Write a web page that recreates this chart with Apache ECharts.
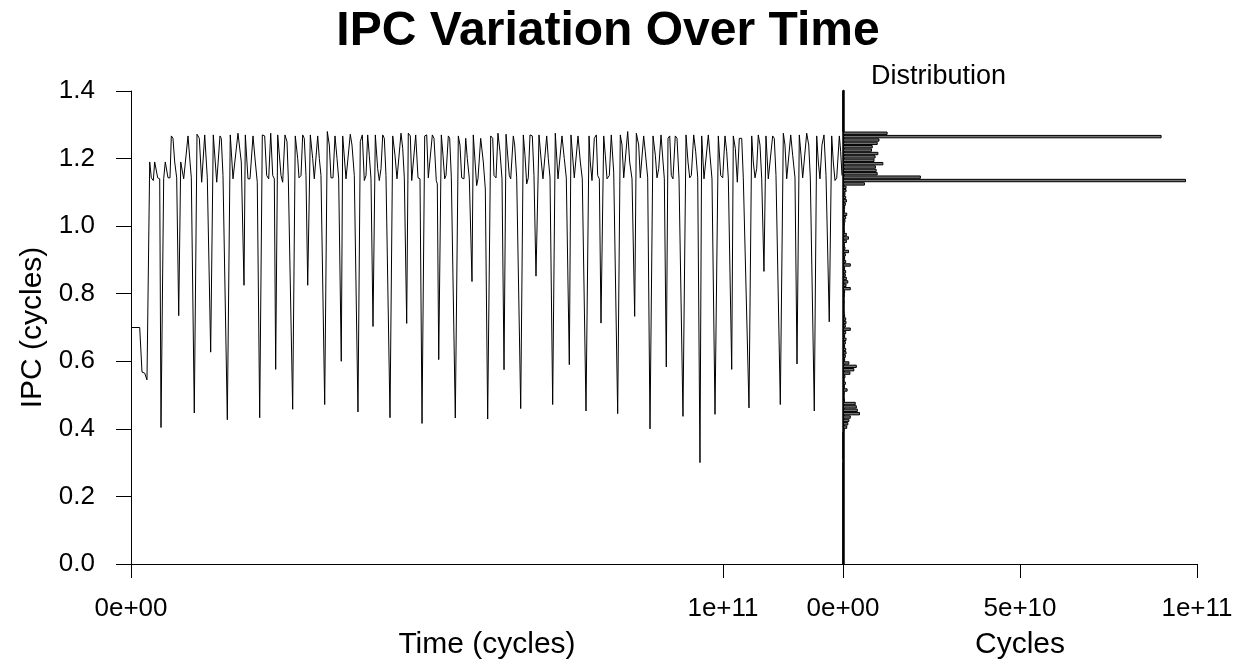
<!DOCTYPE html>
<html>
<head>
<meta charset="utf-8">
<title>IPC Variation Over Time</title>
<script src="https://cdn.jsdelivr.net/npm/echarts@6/dist/echarts.min.js"></script>
<style>
html,body{margin:0;padding:0;background:#fff;}
#chart{width:1236px;height:665px;}
</style>
</head>
<body>
<div id="chart"></div>
<script>
// Time of each sample, in units of 1e9 cycles
const timeGcycles = [
0.17,1.47,1.86,2.31,2.70,3.16,3.43,3.77,4.00,4.27,4.51,4.85,5.07,5.52,5.79,6.25,6.59,6.81,7.09,7.38,7.72,8.06,
8.40,8.67,8.90,9.17,9.63,9.97,10.19,10.47,10.69,11.15,11.54,11.94,12.45,12.89,13.18,13.46,13.90,14.48,15.03,15.25,
15.54,15.83,16.27,16.77,17.23,17.52,18.07,18.63,19.09,19.31,19.76,20.10,20.61,21.00,21.33,21.74,22.18,22.58,22.92,
23.26,23.60,23.94,24.21,24.44,24.78,25.05,25.34,25.62,26.01,26.35,26.57,26.86,27.31,27.75,28.16,28.38,28.72,29.00,
29.27,29.56,29.85,30.29,30.69,30.96,31.25,31.54,31.81,32.09,32.72,33.16,33.50,33.78,34.12,34.46,34.80,35.08,35.36,
35.52,35.76,36.03,36.32,36.60,37.04,37.33,37.72,38.34,38.73,39.07,39.41,39.70,39.98,40.25,40.54,40.88,41.27,41.67,
41.94,42.23,42.52,42.79,43.07,43.75,44.21,44.59,44.93,45.22,45.61,45.90,46.17,46.57,46.84,47.18,47.42,47.75,48.09,
48.48,48.82,49.16,49.61,49.95,50.22,50.46,50.90,51.18,51.57,51.74,51.98,52.42,52.70,52.99,53.21,53.60,53.83,54.11,
54.34,54.78,55.29,55.57,55.86,56.25,56.54,56.81,57.15,57.60,57.82,58.11,58.39,58.61,59.07,59.51,59.85,60.25,60.76,
61.10,61.32,61.66,61.99,62.33,62.67,63.01,63.35,63.57,63.90,64.14,64.58,64.81,65.15,65.83,66.27,66.55,66.84,67.11,
67.40,67.79,68.07,68.41,68.92,69.31,69.59,69.88,70.22,70.49,70.78,71.23,71.67,72.13,72.42,72.80,73.19,73.53,73.82,
74.04,74.32,74.61,74.88,75.12,75.51,75.90,76.23,76.86,77.37,77.58,77.87,78.26,78.60,78.83,79.11,79.39,79.85,80.12,
80.41,80.80,81.13,81.54,82.21,82.65,82.94,83.23,83.56,83.90,84.24,84.63,85.08,85.36,85.76,86.03,86.32,86.60,86.87,
87.28,87.67,88.18,88.57,88.85,89.14,89.53,89.87,90.09,90.42,90.71,91.00,91.27,91.55,91.94,92.23,92.57,93.24,93.75,
94.09,94.38,94.65,95.05,95.39,95.73,96.11,96.40,96.79,97.08,97.52,97.80,98.14,98.65,99.21,99.61,99.95,100.34,100.63,
100.90,101.18,101.47,101.74,102.08,102.42,102.75,103.16,103.43,103.72,104.39,104.85,105.12,105.41,105.69,105.96,
106.25,106.54,106.92,107.26,107.65,107.94,108.39,108.66,108.95,109.68,110.19,110.47,110.76,111.03,111.44,111.77,
112.16,112.50,112.89,113.18,113.46,113.74,114.14,114.48,114.75,115.42,115.83,116.10,116.38,116.72,117.06,117.40,
117.95,118.36,118.63,118.92,119.21,119.65,119.88,120.10
];
// IPC of each sample
const ipcValues = [
0.70,0.70,0.568,0.565,0.545,1.19,1.143,1.135,1.19,1.19,1.143,1.14,0.404,1.14,1.19,1.143,1.143,1.267,1.26,1.19,1.143,0.735,
1.19,1.185,1.14,1.143,1.267,1.19,1.143,1.14,0.447,1.272,1.26,1.13,1.27,1.143,1.14,0.627,1.27,1.13,1.267,1.26,
1.15,1.145,0.427,1.27,1.14,1.14,1.275,1.19,0.825,1.27,1.14,1.14,1.267,1.19,1.13,0.433,1.27,1.267,1.15,
1.14,1.275,1.15,1.14,0.576,1.27,1.27,1.15,1.13,1.27,1.25,1.145,1.145,0.458,1.267,1.20,1.143,1.15,1.27,
1.26,1.15,0.825,1.27,1.20,1.14,1.143,1.267,1.20,1.15,0.472,1.28,1.24,1.143,1.143,1.267,1.20,1.14,1.137,
0.60,1.267,1.267,1.14,1.135,1.272,1.24,1.15,0.45,1.25,1.27,1.135,1.15,1.27,1.21,1.14,0.703,1.27,1.17,
1.135,1.17,1.27,1.26,1.15,0.433,1.267,1.21,1.14,1.143,1.275,1.23,1.143,0.712,1.275,1.267,1.135,1.14,1.27,
1.143,1.14,0.416,1.267,1.27,1.143,1.14,1.27,1.26,1.135,1.125,0.605,1.27,1.21,1.14,1.15,1.267,1.26,1.143,
1.14,0.432,1.267,1.24,1.143,1.14,1.26,1.20,1.14,0.836,1.27,1.267,1.12,1.14,1.26,1.19,1.11,0.429,1.267,
1.26,1.15,1.143,1.275,1.22,1.14,0.575,1.272,1.27,1.15,1.14,1.267,1.24,1.143,0.46,1.27,1.21,1.125,1.143,
1.27,1.267,1.15,0.852,1.27,1.19,1.14,1.143,1.267,1.20,1.143,0.472,1.275,1.14,1.143,1.267,1.20,1.143,1.14,
0.59,1.27,1.267,1.143,1.14,1.267,1.19,1.14,0.453,1.267,1.19,1.135,1.26,1.27,1.15,1.14,0.713,1.267,1.21,
1.14,1.15,1.27,1.16,0.445,1.27,1.24,1.143,1.143,1.28,1.19,1.14,0.733,1.275,1.24,1.143,1.143,1.267,1.22,
1.143,0.40,1.267,1.21,1.143,1.17,1.27,1.19,1.14,0.583,1.26,1.267,1.15,1.14,1.267,1.26,1.14,0.437,1.27,
1.19,1.143,1.15,1.27,1.22,1.143,0.30,1.267,1.14,1.14,1.27,1.21,1.14,0.443,1.267,1.15,1.143,1.267,1.22,
1.14,1.135,0.576,1.267,1.23,1.13,1.26,1.26,1.143,1.14,0.462,1.267,1.19,1.143,1.17,1.27,
1.24,1.14,0.866,1.267,1.14,1.14,1.267,1.26,1.15,0.472,1.275,1.24,1.14,1.143,1.27,1.21,
1.143,0.592,1.27,1.21,1.143,1.143,1.275,1.24,1.143,0.453,1.267,1.19,1.14,1.24,1.27,1.15,
0.717,1.267,1.19,1.135,1.143,1.267,1.22,1.15
];
const timeMaxGcycles = 120.27;

// Distribution: IPC bins of width 0.01 starting at 0.00; cycles per bin in units of 1e9
const histBinWidth = 0.01;
const histCyclesG = [
0,0,0,0,0,0,0,0,0,0, 0,0,0,0,0,0,0,0,0,0, 0,0,0,0,0,0,0,0,0,0,
0.2,0,0,0,0,0,0,0,0,
0.4,1.2,1.5,1.8,2.2,4.8,4.2,3.9,3.6,0.5,0.3,0.4,1.3,0.5,0.8,0.3,0.7,2.1,3.2,3.9,1.8,
0.6,0.8,1.0,0.9,0.6,0.8,1.0,0.6,0.9,2.2,0.8,1.0,0.9,0.6,0.4,0.3,0.3,0.4,0.3,0.5,
0.6,2.2,1.0,1.5,1.1,0.8,0.9,0.6,2.2,0.9,0.6,0.8,1.7,0.7,0.5,1.1,1.7,1.1,0.5,0.4,
0.5,0.7,0.9,1.2,0.5,0.6,0.8,1.1,0.9,0.7,1.0,1.0,6.2,96.9,22.0,9.8,9.5,9.3,11.4,8.9,
9.2,10.0,8.2,8.4,9.8,10.3,90.0,12.6,
0,0,0,0,0,0,0,0,0,0,0,0
];

const yTicks = { min: 0, max: 1.4, interval: 0.2 };
const histTicks = { min: 0, max: 1e11, interval: 5e10 };

const FONT = "'Liberation Sans', Arial, Helvetica, sans-serif";

function sci(v) {
  if (v === 0) return '0e+00';
  const s = v.toExponential();
  const parts = s.split('e');
  const sign = parts[1][0];
  let ex = parts[1].slice(1);
  if (ex.length < 2) ex = '0' + ex;
  return parts[0] + 'e' + sign + ex;
}

const lineData = timeGcycles.map((t, i) => [t * 1e9, ipcValues[i]]);
const histCats = histCyclesG.map((_, i) => (i * histBinWidth).toFixed(2));
const histData = histCyclesG.map(v => v * 1e9);

const chart = echarts.init(document.getElementById('chart'), null, { renderer: 'canvas' });
const axisCommon = {
  axisLine: { show: true, lineStyle: { color: '#000', width: 1 } },
  splitLine: { show: false },
  nameTextStyle: { fontSize: 30, fontFamily: FONT, color: '#000' }
};
chart.setOption({
  animation: false,
  backgroundColor: '#fff',
  title: {
    text: 'IPC Variation Over Time', left: 603, top: 3, textAlign: 'center',
    textStyle: { fontSize: 48, fontWeight: 'bold', fontFamily: FONT, color: '#000' }
  },
  grid: [
    { left: 131, right: 393, top: 91, bottom: 99 },
    { left: 843, right: 39, top: 91, bottom: 99 }
  ],
  xAxis: [
    Object.assign({}, axisCommon, {
      gridIndex: 0, type: 'value', min: 0, max: timeMaxGcycles * 1e9, interval: 1e11,
      name: 'Time (cycles)', nameLocation: 'middle', nameGap: 66,
      axisTick: { show: true, length: 14, lineStyle: { color: '#000' } },
      axisLabel: {
        fontSize: 26, fontFamily: FONT, color: '#000', margin: 32, showMaxLabel: false,
        formatter: v => (v === 0 || v === 1e11) ? sci(v) : ''
      }
    }),
    Object.assign({}, axisCommon, {
      gridIndex: 1, type: 'value', min: histTicks.min, max: histTicks.max, interval: histTicks.interval,
      name: 'Cycles', nameLocation: 'middle', nameGap: 66,
      axisTick: { show: true, length: 14, lineStyle: { color: '#000' } },
      axisLabel: { fontSize: 26, fontFamily: FONT, color: '#000', margin: 32, formatter: v => sci(v) }
    })
  ],
  yAxis: [
    Object.assign({}, axisCommon, {
      gridIndex: 0, type: 'value', min: yTicks.min, max: yTicks.max, interval: yTicks.interval,
      name: 'IPC (cycles)', nameLocation: 'middle', nameGap: 77,
      axisTick: { show: true, length: 15, lineStyle: { color: '#000' } },
      axisLabel: { fontSize: 26, fontFamily: FONT, color: '#000', margin: 36, formatter: v => v.toFixed(1) }
    }),
    {
      gridIndex: 1, type: 'category', data: histCats,
      axisLine: { show: true, lineStyle: { color: '#000', width: 2.5 } },
      axisTick: { show: false }, axisLabel: { show: false }, splitLine: { show: false }
    }
  ],
  series: [
    {
      type: 'line', xAxisIndex: 0, yAxisIndex: 0, data: lineData,
      showSymbol: false, symbol: 'none',
      lineStyle: { color: '#000', width: 1 }
    },
    {
      type: 'bar', xAxisIndex: 1, yAxisIndex: 1, data: histData,
      barWidth: '100%',
      itemStyle: { color: '#737373', borderColor: '#000', borderWidth: 1 }
    }
  ],
  graphic: [
    {
      type: 'text', x: 871, y: 77,
      style: { text: 'Distribution', fontSize: 27, fontFamily: FONT, fill: '#000', verticalAlign: 'middle', align: 'left' }
    }
  ]
});
</script>
</body>
</html>
